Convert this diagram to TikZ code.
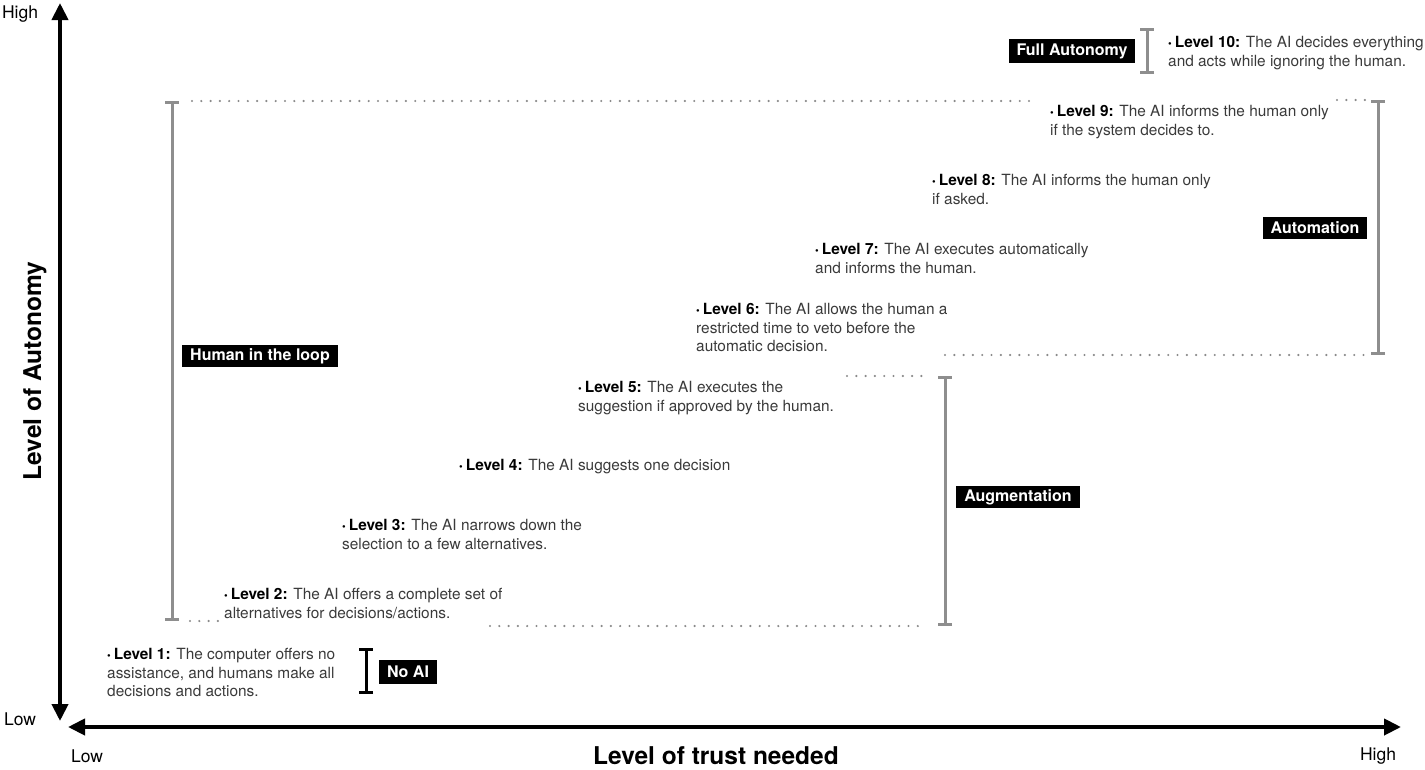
\documentclass[tikz,border=0pt]{standalone}
\usepackage{fontspec}
\setmainfont{TeX Gyre Heros}
\usepackage{xcolor}
\usepackage{tikz}
\usetikzlibrary{arrows.meta,calc}
\definecolor{bargray}{HTML}{8E8E8E}
\definecolor{dotgray}{HTML}{8A8A8A}
\definecolor{txtgray}{HTML}{3A3A3A}
\newcommand{\lv}[1]{\textcolor{black}{{\fontsize{10.5}{10.5}\selectfont •}\hspace{3pt}\bfseries Level #1:}}

\begin{document}
\begin{tikzpicture}[x=1pt,y=-1pt,line cap=round,line join=round,
  axis/.style={line width=4pt,{Triangle[length=17pt,width=16pt]}-{Triangle[length=17pt,width=16pt]}},
  bracket/.style={draw=bargray,line width=3pt,{Bar[width=14pt]}-{Bar[width=14pt]}},
  guide/.style={draw=dotgray,line width=2.4pt,dash pattern=on 0pt off 9.3pt},
  tag/.style={fill=black,text=white,font=\fontsize{16}{16}\selectfont\bfseries,inner xsep=8pt,inner ysep=0pt,minimum height=22pt},
  lvl/.style={anchor=base west,align=left,inner sep=0pt,text=txtgray,font=\fontsize{15.4}{18.5}\selectfont},
  ends/.style={font=\fontsize{17.5}{17.5}\selectfont}]
\useasboundingbox (0,0) rectangle (1425,769);
% axes
\coordinate (ytop) at (60,3);
\coordinate (ybot) at (60,721);
\coordinate (xleft) at (68,727);
\coordinate (xright) at (1401,727);
\draw[axis] (ybot) -- (ytop);
\draw[axis] (xleft) -- (xright);
\node[ends] (yhigh) at (20,14) {High};
\node[ends] (ylow) at (20,719) {Low};
\node[ends] (xlow) at (87,756) {Low};
\node[ends] (xhigh) at (1378,756) {High};
\node[font=\fontsize{24.5}{24.5}\selectfont\bfseries,rotate=90] (ytitle) at (35,371) {Level of Autonomy};
\node[font=\fontsize{24.5}{24.5}\selectfont\bfseries] (xtitle) at (716,756) {Level of trust needed};
% brackets
\coordinate (hiltop) at (172,101);
\coordinate (hilbot) at (172,621);
\coordinate (augtop) at (945,376);
\coordinate (augbot) at (945,626);
\coordinate (auttop) at (1378,100);
\coordinate (autbot) at (1378,355);
\coordinate (fulltop) at (1147,28);
\coordinate (fullbot) at (1147,74);
\coordinate (noaitop) at (366,648);
\coordinate (noaibot) at (366,694);
\draw[bracket] (hiltop) -- (hilbot);
\draw[bracket] (augtop) -- (augbot);
\draw[bracket] (auttop) -- (autbot);
\draw[bracket] (fulltop) -- (fullbot);
\draw[bracket,draw=black] (noaitop) -- (noaibot);
% dotted guides
\draw[guide] (192,101) -- (1035,101);
\draw[guide] (1337,100) -- (1366,100);
\draw[guide] (190,621) -- (218,621);
\draw[guide] (847,376) -- (930,376);
\draw[guide] (490,626) -- (925,626);
\draw[guide] (945,355) -- (1365,355);
% tags
\node[tag] (hil) at (260,356) {Human in the loop};
\node[tag] (aug) at (1018,497) {Augmentation};
\node[tag] (aut) at (1315,228) {Automation};
\node[tag,minimum height=24pt] (full) at (1072,51) {Full Autonomy};
\node[tag,minimum height=24pt] (noai) at (408,672) {No AI};
% levels (placed at the baseline of the last line)
\node[lvl] (l1) at (107,696.5) {\lv{1} The computer offers no\\assistance, and humans make all\\decisions and actions.};
\node[lvl] (l2) at (224,618) {\lv{2} The AI offers a complete set of\\alternatives for decisions/actions.};
\node[lvl] (l3) at (342,549) {\lv{3} The AI narrows down the\\selection to a few alternatives.};
\node[lvl] (l4) at (459,470.5) {\lv{4} The AI suggests one decision};
\node[lvl] (l5) at (578,411) {\lv{5} The AI executes the\\suggestion if approved by the human.};
\node[lvl] (l6) at (696,351.5) {\lv{6} The AI allows the human a\\restricted time to veto before the\\automatic decision.};
\node[lvl] (l7) at (815,273) {\lv{7} The AI executes automatically\\and informs the human.};
\node[lvl] (l8) at (932,204) {\lv{8} The AI informs the human only\\if asked.};
\node[lvl] (l9) at (1050,135) {\lv{9} The AI informs the human only\\if the system decides to.};
\node[lvl] (l10) at (1168,66) {\lv{10} The AI decides everything\\and acts while ignoring the human.};
\end{tikzpicture}
\end{document}
